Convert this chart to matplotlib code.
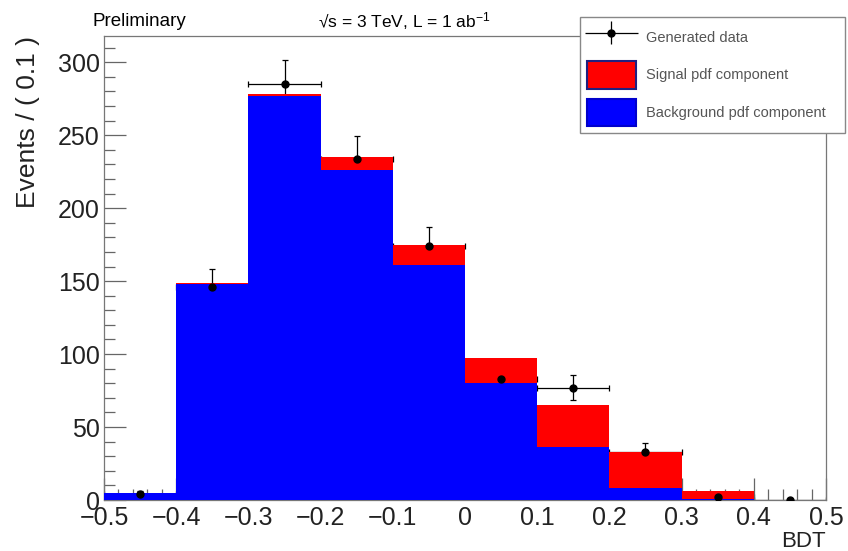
import numpy as np
import matplotlib.pyplot as plt
from matplotlib.patches import Patch
from matplotlib.legend_handler import HandlerErrorbar
from matplotlib.ticker import MultipleLocator

plt.rcParams['font.family'] = ['Liberation Sans', 'DejaVu Sans']
plt.rcParams['mathtext.default'] = 'regular'

# BDT binning and fitted components
edges = np.round(np.arange(-0.5, 0.51, 0.1), 2)
data = [4, 146, 285, 234, 174, 83, 77, 33, 2, 0]
background = [5, 148, 277, 226, 161, 80, 36, 8, 1, 0]
total = [5, 149, 278, 235, 175, 97, 65, 33, 6, 0]
xtick_vals = [-0.5, -0.4, -0.3, -0.2, -0.1, 0, 0.1, 0.2, 0.3, 0.4, 0.5]

centers = 0.5 * (edges[:-1] + edges[1:])
data = np.array(data, dtype=float)
errs = np.sqrt(data)

fig = plt.figure(figsize=(8.48, 5.51), dpi=100)
ax = fig.add_axes([104 / 848, 51 / 551, 722 / 848, 464 / 551])

# data error bars sit behind the filled components, markers on top
ax.errorbar(centers, data, yerr=errs, xerr=0.05, fmt='none', ecolor='black',
            elinewidth=0.9, capsize=2.5, capthick=0.9, zorder=1)
ax.stairs(total, edges, fill=True, color='#ff0000', zorder=2)
ax.stairs(background, edges, fill=True, color='#0000ff', zorder=3)
ax.plot(centers, data, 'o', color='black', ms=5, zorder=4)

ax.set_xlim(-0.5, 0.5)
ax.set_ylim(0, 318)
ax.set_xticks(xtick_vals)
ax.set_xticklabels([f'{v:.1f}'.replace('-', '\u2212') if v != 0 else '0'
                    for v in xtick_vals])
ax.xaxis.set_minor_locator(MultipleLocator(0.02))
ax.yaxis.set_major_locator(MultipleLocator(50))
ax.yaxis.set_minor_locator(MultipleLocator(10))
ax.tick_params(which='both', direction='in', top=False, right=False,
               colors='#666666', labelcolor='#222222', labelsize=18)
ax.tick_params(which='major', length=16, width=0.9)
ax.tick_params(which='minor', length=8, width=0.9)
ax.tick_params(axis='x', pad=4)
ax.tick_params(axis='y', pad=3)
for s in ax.spines.values():
    s.set_color('#777777')
    s.set_linewidth(0.9)

ax.set_xlabel('BDT', fontsize=16, color='#222222', loc='right', labelpad=1)
ax.set_ylabel('Events / ( 0.1 )', fontsize=19, color='#222222', loc='top', labelpad=13)

fig.text(92 / 848, 1 - 21 / 551, 'Preliminary', fontsize=13.5, va='center')
fig.text(318 / 848, 1 - 21 / 551, '\u221as = 3 TeV, L = 1 ab$^{-1}$',
         fontsize=12.5, va='center')

data_handle = ax.errorbar([], [], yerr=[], xerr=[], fmt='o', color='black', ms=5,
                          elinewidth=0.9, capsize=3)
handles = [
    data_handle,
    Patch(facecolor='#ff0000', edgecolor='#202080', linewidth=1.5),
    Patch(facecolor='#0000ff', edgecolor='#0000cc', linewidth=1.5),
]
labels = ['Generated data', 'Signal pdf component', 'Background pdf component']
leg = fig.legend(handles, labels, loc='upper left',
                 bbox_to_anchor=(580 / 848, 1 - 17 / 551, 265 / 848, 0),
                 mode='expand', fontsize=10.5, fancybox=False, framealpha=1,
                 edgecolor='#888888', handlelength=3.4, handleheight=2.5,
                 labelspacing=0.72, borderpad=0.45, handletextpad=0.7,
                 borderaxespad=0,
                 handler_map={type(data_handle): HandlerErrorbar(xerr_size=1.8, yerr_size=0.8)})
leg.get_frame().set_linewidth(1.0)
for t in leg.get_texts():
    t.set_color('#555555')

fig.savefig('out.png', dpi=100)
